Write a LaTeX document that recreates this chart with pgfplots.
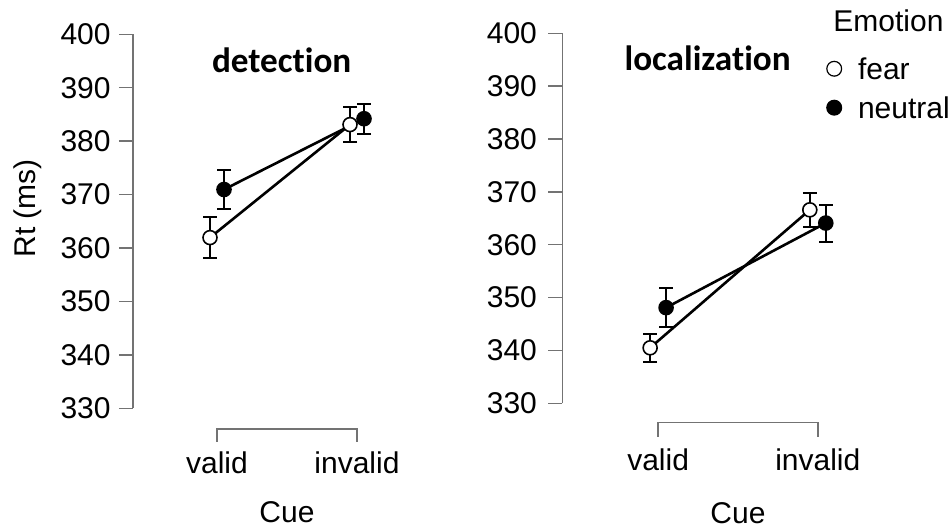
\documentclass[border=0pt]{standalone}
\usepackage{fontspec}
\setmainfont{Liberation Sans}
\newfontfamily\titlefont[Ligatures=NoCommon]{Carlito}
\usepackage{pgfplots}
\pgfplotsset{compat=1.18}
\definecolor{axisgray}{gray}{0.45}
\newcommand\labelfont{\fontsize{15}{18}\selectfont}

\pgfplotsset{
  rstyle/.style={
    scale only axis,
    xmin=0.4, xmax=2.6, ymin=330, ymax=400,
    axis y line*=left, axis x line*=bottom,
    x axis line style={draw=none},
    y axis line style={draw=axisgray, line width=0.75pt},
    tick align=outside, major tick length=7pt,
    ytick={330,340,...,400},
    ytick style={draw=axisgray, line width=0.75pt},
    xtick={1,2}, xticklabels={valid,invalid},
    xtick style={draw=none},
    tick label style={font=\labelfont},
    /pgf/number format/assume math mode=true,
    yticklabel style={anchor=east, inner sep=0pt, xshift=-4pt},
    label style={font=\labelfont},
    xlabel={Cue},
    clip=false,
  },
  fearplot/.style={black, line width=1.3pt, mark=*, mark size=3.5pt,
    mark options={solid, fill=white, draw=black, line width=0.8pt},
    error bars/.cd, y dir=both, y explicit,
    error bar style={line width=1pt, black},
    error mark options={rotate=90, line width=1pt, mark size=3.5pt, black}},
  neutralplot/.style={black, line width=1.3pt, mark=*, mark size=3.5pt,
    mark options={solid, fill=black, draw=black, line width=0.8pt},
    error bars/.cd, y dir=both, y explicit,
    error bar style={line width=1pt, black},
    error mark options={rotate=90, line width=1pt, mark size=3.5pt, black}},
}

\begin{document}
\begin{tikzpicture}
\useasboundingbox (0,0) rectangle (476pt,264.5pt);

% detection
\begin{axis}[rstyle,
  at={(66.5pt,60.35pt)}, anchor=south west,
  width=154pt, height=187pt,
  xticklabel style={anchor=base, inner sep=0pt, yshift=-25.35pt},
  xlabel style={at={(axis description cs:0.5,0)}, anchor=base, inner sep=0pt, yshift=-57.2pt},
  ylabel={Rt (ms)},
  ylabel style={at={(axis description cs:-0.341,0.535)}, anchor=center, inner sep=0pt},
]
\addplot[neutralplot] coordinates {(1.05,370.95) +- (0,3.7) (2.05,384.2) +- (0,2.8)};
\addplot[fearplot] coordinates {(0.95,361.95) +- (0,3.9) (1.95,383.1) +- (0,3.3)};
\draw[axisgray, line width=0.75pt] ([yshift=-16.85pt]axis cs:1,330) -- ([yshift=-10.35pt]axis cs:1,330)
  -- ([yshift=-10.35pt]axis cs:2,330) -- ([yshift=-16.85pt]axis cs:2,330);
\node[anchor=base, inner sep=0pt, font=\titlefont\bfseries\fontsize{17.6}{21}\selectfont] at (axis cs:1.462,392.83) {detection};
\end{axis}

% localization
\begin{axis}[rstyle,
  at={(281.15pt,62.85pt)}, anchor=south west,
  width=175.65pt, height=185pt,
  yticklabel style={xshift=-1.5pt},
  xticklabel style={anchor=base, inner sep=0pt, yshift=-26.85pt},
  xlabel style={at={(axis description cs:0.5,0)}, anchor=base, inner sep=0pt, yshift=-60pt},
  legend cell align=left,
  legend image code/.code={\draw[#1] plot coordinates {(0pt,0pt)};},
  legend style={draw=none, fill=none, inner sep=0pt, font=\labelfont,
    row sep=8.6pt, column sep=8.2pt,
    nodes={inner sep=0pt, text depth=0pt},
    at={(axis description cs:0.7763,0.9054)}, anchor=north west,
    xshift=-4.3pt, yshift=5.4pt},
]
\addlegendimage{only marks, mark=*, mark size=3.7pt, mark options={fill=white, draw=black, line width=0.6pt}}
\addlegendentry{fear}
\addlegendimage{only marks, mark=*, mark size=3.7pt, mark options={fill=black, draw=black, line width=0.6pt}}
\addlegendentry{neutral}
\addplot[neutralplot] coordinates {(1.05,348.1) +- (0,3.7) (2.05,364.1) +- (0,3.5)};
\addplot[fearplot] coordinates {(0.95,340.5) +- (0,2.6) (1.95,366.6) +- (0,3.2)};
\draw[axisgray, line width=0.75pt] ([yshift=-16.7pt]axis cs:1,330) -- ([yshift=-9.5pt]axis cs:1,330)
  -- ([yshift=-9.5pt]axis cs:2,330) -- ([yshift=-16.7pt]axis cs:2,330);
\node[anchor=base, inner sep=0pt, font=\titlefont\bfseries\fontsize{17.6}{21}\selectfont] at (axis cs:1.31,392.87) {localization};
\node[anchor=base west, inner sep=0pt, font=\labelfont] at (axis description cs:0.7706,1.0043) {Emotion};
\end{axis}
\end{tikzpicture}
\end{document}
